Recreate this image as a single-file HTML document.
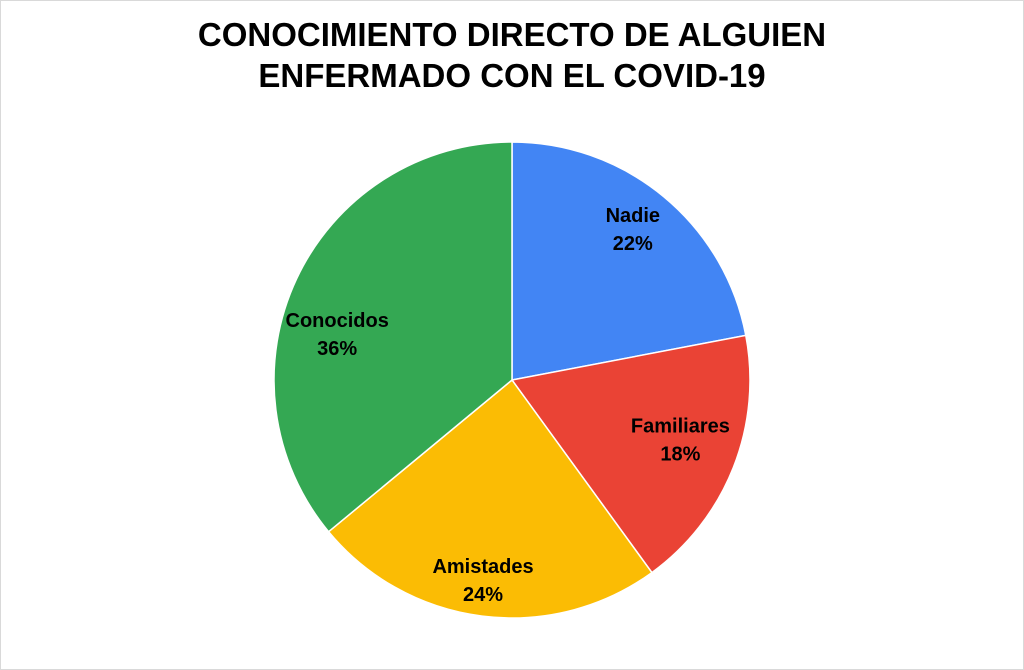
<!DOCTYPE html>
<html><head><meta charset="utf-8"><style>
html,body{margin:0;padding:0;background:#fff}
#wrap{width:1022px;height:668px;border:1px solid #d9d9d9;position:relative;overflow:hidden}
svg text{font-family:"Liberation Sans",Arial,sans-serif}
</style></head><body>
<div id="wrap">
<svg id="chart" width="1022" height="668">
<text x="511" y="45" text-anchor="middle" font-size="33" font-weight="bold" fill="#000">CONOCIMIENTO DIRECTO DE ALGUIEN</text>
<text x="511" y="86" text-anchor="middle" font-size="33" font-weight="bold" fill="#000">ENFERMADO CON EL COVID-19</text>
<g id="slices"></g><g id="labels"></g>
</svg>
</div>
<script>
const categories = ["Nadie","Familiares","Amistades","Conocidos"];
const values = [22,18,24,36];
const colors = ["#4285f4","#ea4335","#fbbc04","#34a853"];
const labelNudgeX = [4,-2,-6,-9];
const labelNudgeY = [-11,-9,17,31];
const cx=511, cy=379, R=238;
const ns="http://www.w3.org/2000/svg";
const total=values.reduce((a,b)=>a+b,0);
const gS=document.getElementById('slices'), gL=document.getElementById('labels');
function pt(a,r){return [cx+r*Math.sin(a), cy-r*Math.cos(a)];}
let start=0;
values.forEach((v,i)=>{
  const ang=v/total*2*Math.PI, end=start+ang;
  const p1=pt(start,R), p2=pt(end,R);
  const path=document.createElementNS(ns,'path');
  path.setAttribute('d',`M${cx},${cy} L${p1[0]},${p1[1]} A${R},${R} 0 ${ang>Math.PI?1:0} 1 ${p2[0]},${p2[1]} Z`);
  path.setAttribute('fill',colors[i]);
  path.setAttribute('stroke','#fff');
  path.setAttribute('stroke-width','1.5');
  
  
  gS.appendChild(path);
  const mid=start+ang/2;
  const lp=pt(mid,R*0.77);
  const lx=lp[0]+labelNudgeX[i], ly=lp[1]+labelNudgeY[i];
  const t=document.createElementNS(ns,'text');
  t.setAttribute('x',lx); t.setAttribute('y',ly-6);
  t.setAttribute('text-anchor','middle');
  t.setAttribute('font-size','20'); t.setAttribute('font-weight','bold');
  
  
  const s1=document.createElementNS(ns,'tspan'); s1.setAttribute('x',lx); s1.textContent=categories[i];
  const s2=document.createElementNS(ns,'tspan'); s2.setAttribute('x',lx); s2.setAttribute('dy','28'); s2.textContent=Math.round(v/total*100)+'%';
  t.appendChild(s1); t.appendChild(s2);
  gL.appendChild(t);
  start=end;
});
</script>
</body></html>
